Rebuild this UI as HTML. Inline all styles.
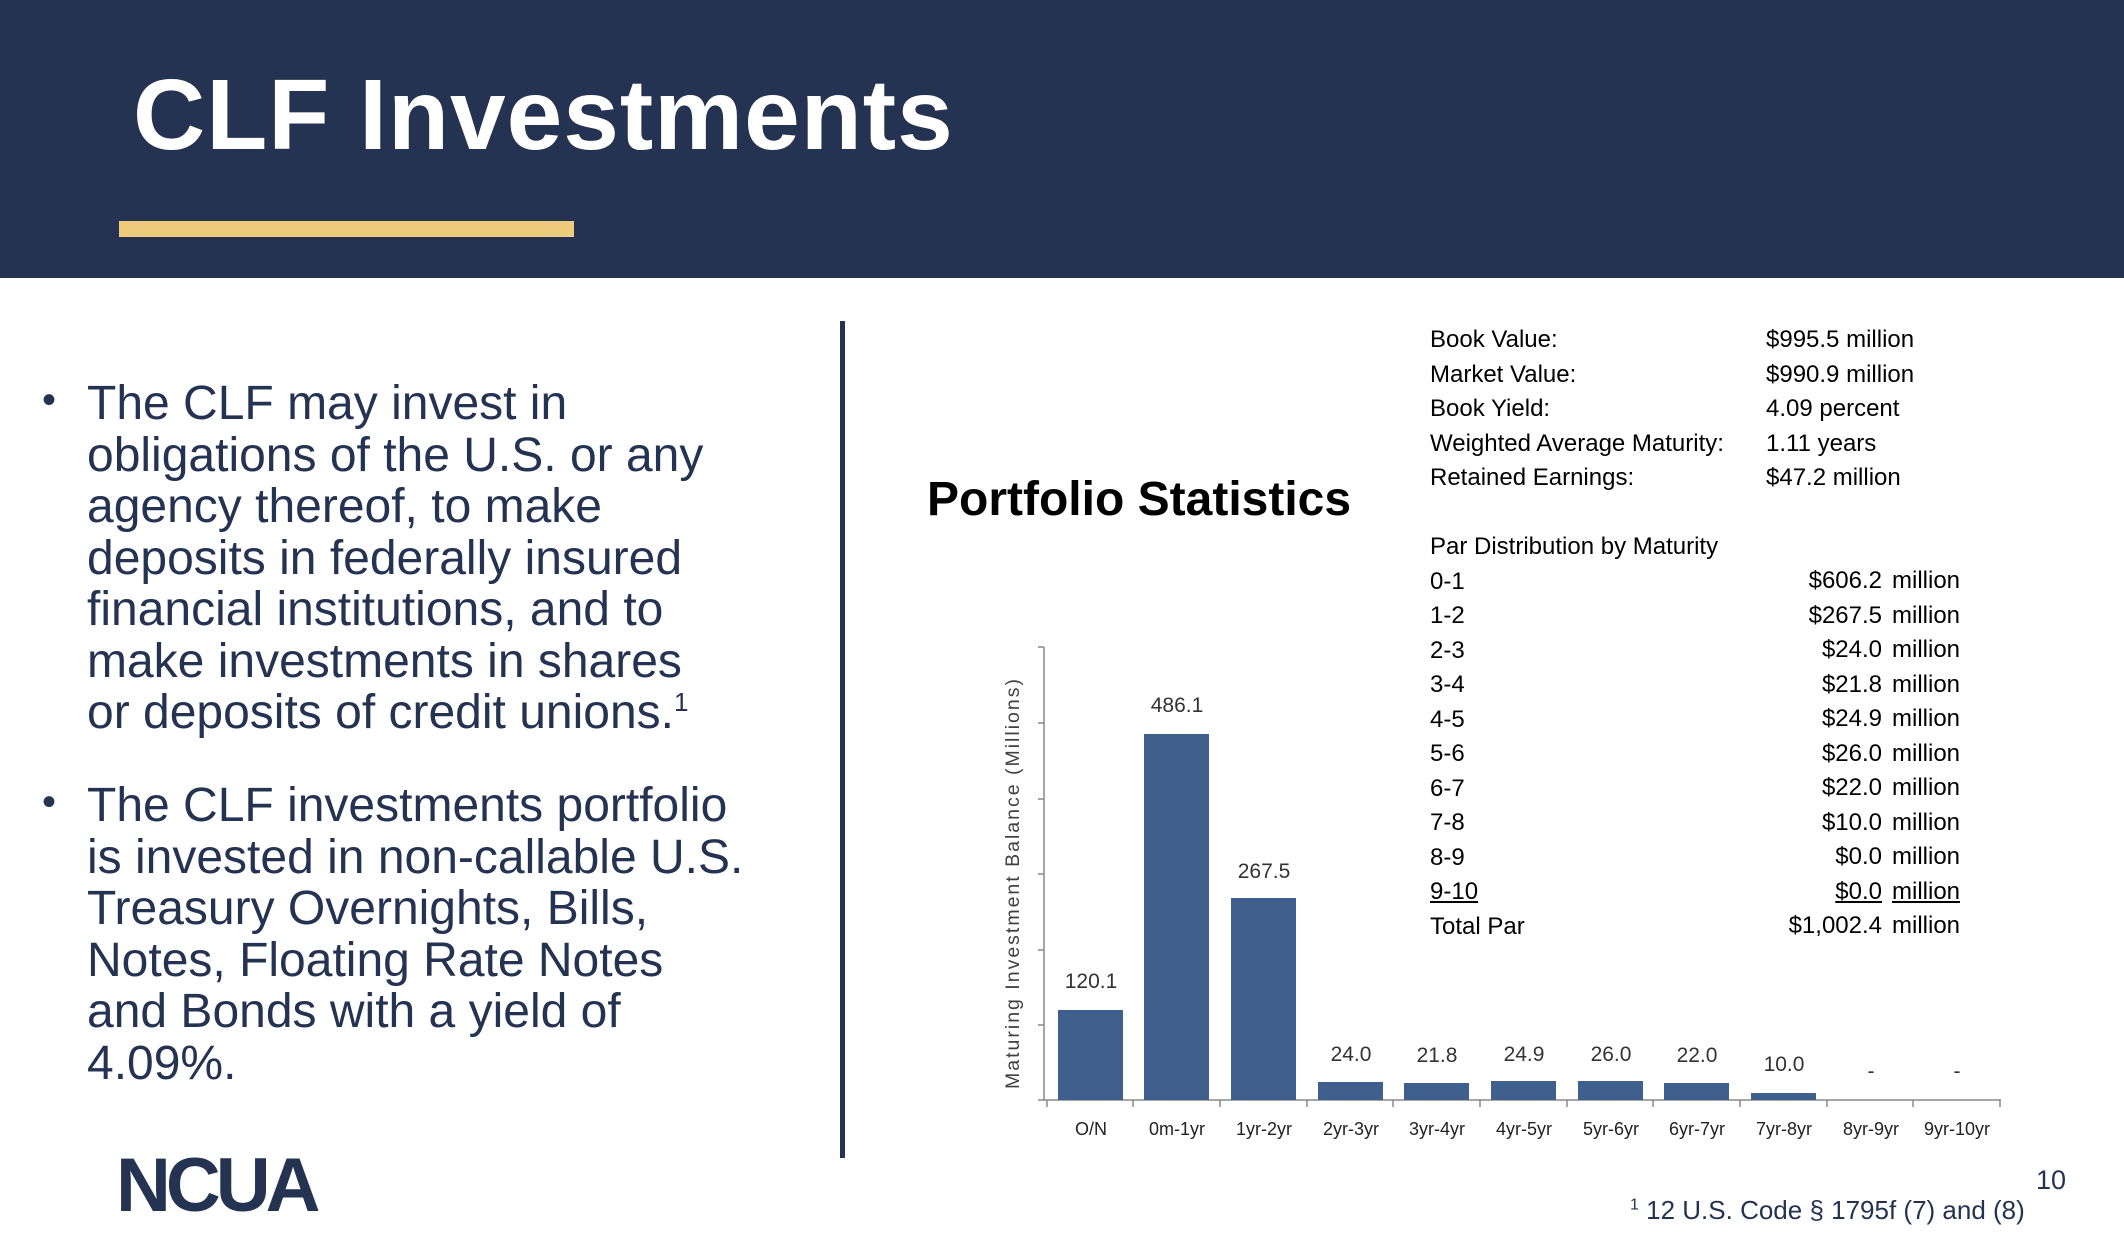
<!DOCTYPE html>
<html><head><meta charset="utf-8"><style>
html,body{margin:0;padding:0;}
body{width:2124px;height:1238px;position:relative;overflow:hidden;background:#fff;font-family:"Liberation Sans",sans-serif;}
.a{position:absolute;white-space:nowrap;}
#hdr{position:absolute;left:0;top:0;width:2124px;height:278px;background:#253352;}
.b{position:absolute;left:87px;font-size:48px;color:#253352;line-height:51.5px;}
.dot{position:absolute;left:42px;font-size:40px;color:#253352;}
.st{position:absolute;font-size:24px;color:#000;line-height:34.5px;}
sup{line-height:0;}
</style></head><body>
<div id="hdr"></div>
<div class="a" style="left:133px;top:58px;font-size:100px;font-weight:bold;color:#fff;letter-spacing:1px;">CLF Investments</div>
<div class="a" style="left:119px;top:221px;width:455px;height:16px;background:#f0cb7c;"></div>
<div class="a" style="left:840px;top:321px;width:5px;height:837px;background:#253352;"></div>

<div class="dot" style="top:378px;">•</div>
<div class="b" style="top:378px;">The CLF may invest in<br>obligations of the U.S. or any<br>agency thereof, to make<br>deposits in federally insured<br>financial institutions, and to<br>make investments in shares<br>or deposits of credit unions.<sup style="font-size:26px">1</sup></div>
<div class="dot" style="top:780px;">•</div>
<div class="b" style="top:780px;">The CLF investments portfolio<br>is invested in non-callable U.S.<br>Treasury Overnights, Bills,<br>Notes, Floating Rate Notes<br>and Bonds with a yield of<br>4.09%.</div>

<div class="a" style="left:927px;top:472px;font-size:48px;font-weight:bold;color:#000;">Portfolio Statistics</div>

<div class="st" style="left:1430px;top:323px;">Book Value:<br>Market Value:<br>Book Yield:<br>Weighted Average Maturity:<br>Retained Earnings:<br><br>Par Distribution by Maturity<br>0-1<br>1-2<br>2-3<br>3-4<br>4-5<br>5-6<br>6-7<br>7-8<br>8-9<br><u>9-10</u><br>Total Par</div>
<div class="st" style="left:1766px;top:323px;">$995.5 million<br>$990.9 million<br>4.09 percent<br>1.11 years<br>$47.2 million</div>
<div class="st" style="left:1700px;top:564px;width:182px;text-align:right;">$606.2<br>$267.5<br>$24.0<br>$21.8<br>$24.9<br>$26.0<br>$22.0<br>$10.0<br>$0.0<br><u>$0.0</u><br>$1,002.4</div>
<div class="st" style="left:1892px;top:564px;">million<br>million<br>million<br>million<br>million<br>million<br>million<br>million<br>million<br><u>million</u><br>million</div>

<svg class="a" style="left:0;top:0" width="2124" height="1238">
<g stroke="#888" stroke-width="1.5">
<line x1="1044" y1="647" x2="1044" y2="1100"/>
<line x1="1044" y1="1100" x2="2001" y2="1100"/>
<line x1="1038" y1="647" x2="1044" y2="647"/><line x1="1038" y1="723" x2="1044" y2="723"/>
<line x1="1038" y1="799" x2="1044" y2="799"/><line x1="1038" y1="874" x2="1044" y2="874"/>
<line x1="1038" y1="950" x2="1044" y2="950"/><line x1="1038" y1="1025" x2="1044" y2="1025"/>
<line x1="1038" y1="1100" x2="1044" y2="1100"/>
</g>
<g stroke="#888" stroke-width="1.5">
<line x1="1047" y1="1100" x2="1047" y2="1107"/><line x1="1133" y1="1100" x2="1133" y2="1107"/>
<line x1="1220" y1="1100" x2="1220" y2="1107"/><line x1="1307" y1="1100" x2="1307" y2="1107"/>
<line x1="1393" y1="1100" x2="1393" y2="1107"/><line x1="1480" y1="1100" x2="1480" y2="1107"/>
<line x1="1567" y1="1100" x2="1567" y2="1107"/><line x1="1653" y1="1100" x2="1653" y2="1107"/>
<line x1="1740" y1="1100" x2="1740" y2="1107"/><line x1="1827" y1="1100" x2="1827" y2="1107"/>
<line x1="1913" y1="1100" x2="1913" y2="1107"/><line x1="2000" y1="1100" x2="2000" y2="1107"/>
</g>
<g fill="#3f5f8d">
<rect x="1058" y="1010" width="65" height="90"/>
<rect x="1144" y="734" width="65" height="366"/>
<rect x="1231" y="898" width="65" height="202"/>
<rect x="1318" y="1082" width="65" height="18"/>
<rect x="1404" y="1083" width="65" height="17"/>
<rect x="1491" y="1081" width="65" height="19"/>
<rect x="1578" y="1081" width="65" height="19"/>
<rect x="1664" y="1083" width="65" height="17"/>
<rect x="1751" y="1093" width="65" height="7"/>
</g>
<g font-family="'Liberation Sans Narrow','Liberation Sans',sans-serif" font-size="21" fill="#333" text-anchor="middle">
<text x="1091" y="988">120.1</text>
<text x="1177" y="712">486.1</text>
<text x="1264" y="878">267.5</text>
<text x="1351" y="1061">24.0</text>
<text x="1437" y="1062">21.8</text>
<text x="1524" y="1061">24.9</text>
<text x="1611" y="1061">26.0</text>
<text x="1697" y="1062">22.0</text>
<text x="1784" y="1071">10.0</text>
<text x="1871" y="1078">-</text>
<text x="1957" y="1078">-</text>
</g>
<g font-family="'Liberation Sans Narrow','Liberation Sans',sans-serif" font-size="18" fill="#222" text-anchor="middle">
<text x="1091" y="1135">O/N</text><text x="1177" y="1135">0m-1yr</text><text x="1264" y="1135">1yr-2yr</text>
<text x="1351" y="1135">2yr-3yr</text><text x="1437" y="1135">3yr-4yr</text><text x="1524" y="1135">4yr-5yr</text>
<text x="1611" y="1135">5yr-6yr</text><text x="1697" y="1135">6yr-7yr</text><text x="1784" y="1135">7yr-8yr</text>
<text x="1871" y="1135">8yr-9yr</text><text x="1957" y="1135">9yr-10yr</text>
</g>
<text transform="translate(1019,883) rotate(-90)" text-anchor="middle" font-family="'Liberation Sans',sans-serif" font-size="19.5" fill="#404040" letter-spacing="2">Maturing Investment Balance  (Millions)</text>
</svg>

<div class="a" style="left:116px;top:1142px;font-size:76px;font-weight:bold;color:#253352;letter-spacing:-5px;">NCUA</div>
<div class="a" style="left:2036px;top:1165px;font-size:27px;color:#253352;">10</div>
<div class="a" style="left:1630px;top:1195px;font-size:26px;color:#253352;"><sup style="font-size:16px">1</sup> 12 U.S. Code § 1795f (7) and (8)</div>
</body></html>
